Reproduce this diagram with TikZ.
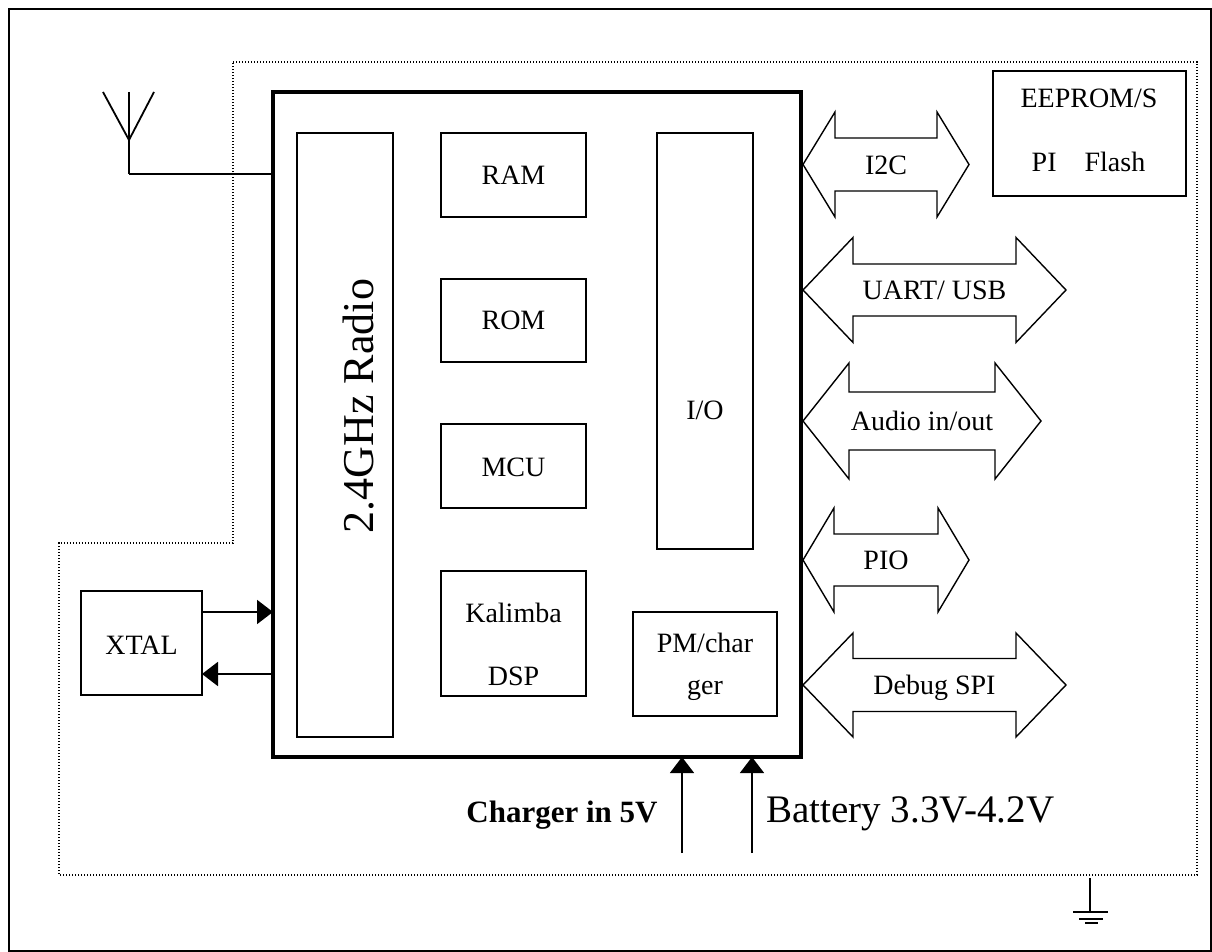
\documentclass[tikz,border=0pt]{standalone}
\usepackage{fontspec}
\setmainfont{Liberation Serif}
\usetikzlibrary{arrows.meta,fit}
\begin{document}
\begin{tikzpicture}[x=0.5pt, y=-0.5pt, >={Triangle[length=8pt, width=12pt]},
  box/.style={draw, line width=0.7pt, inner sep=0pt, outer sep=0pt},
  txt/.style={font=\fontsize{14}{17}\selectfont, inner sep=0pt, anchor=base},
  zone/.style={line width=0.7pt, dash pattern=on 0.6pt off 0.9pt}]
\useasboundingbox (0,0) rectangle (1212,952);
\draw[line width=1pt] (9,9) rectangle (1211,951);
% module outline
\draw[zone] (233,62) -- (1197,62) -- (1197,875) -- (59,875) -- (59,543) -- (233,543) -- cycle;
% chip and blocks
\node[box, line width=2pt, fit={(273,92) (801,757)}] (chip) {};
\node[box, fit={(297,133) (393,737)}] (radio) {};
\node[txt, font=\fontsize{22}{26}\selectfont, rotate=90] (radiolbl) at (373,406) {2.4GHz Radio};
\node[box, fit={(441,133) (586,217)}] (ram) {};
\node[txt] (ramlbl) at (513.5,185) {RAM};
\node[box, fit={(441,279) (586,362)}] (rom) {};
\node[txt] (romlbl) at (513.5,330) {ROM};
\node[box, fit={(441,424) (586,508)}] (mcu) {};
\node[txt] (mculbl) at (513.5,477) {MCU};
\node[box, fit={(441,571) (586,696)}] (dsp) {};
\node[txt] (dsplbla) at (513.5,623) {Kalimba};
\node[txt] (dsplblb) at (513.5,685) {DSP};
\node[box, fit={(657,133) (753,549)}] (io) {};
\node[txt] (iolbl) at (705,420) {I/O};
\node[box, fit={(633,612) (777,716)}] (pm) {};
\node[txt] (pmlbla) at (705,653) {PM/char};
\node[txt] (pmlblb) at (705,695) {ger};
\node[box, fit={(81,591) (202,695)}] (xtal) {};
\node[txt] (xtallbl) at (141.5,654) {XTAL};
\node[box, fit={(993,71) (1186,196)}] (flash) {};
\node[txt] (flashlbla) at (1089,108) {EEPROM/S};
\node[txt] (flashlblb) at (1088.5,172) {PI\quad Flash};
% antenna
\coordinate (ant) at (129,174);
\draw[line width=0.9pt] (103,92) -- (129,140) -- (154,92);
\draw[line width=0.9pt] (129,92) -- (ant);
\draw[line width=0.7pt] (ant) -- (ant -| chip.west);
% crystal
\coordinate (xa) at (202,612);
\coordinate (xb) at (202,674);
\draw[->, line width=1pt] (xa) -- (xa -| chip.west);
\draw[->, line width=1pt] (xb -| chip.west) -- (xb);
% interfaces
\foreach \c/\r/\h/\s/\w/\t [count=\i] in {164.5/969/32/26.5/52.5/I2C, 290/1066/50/26/52.5/{UART/ USB},
    421/1041/46/29/58/{Audio in/out}, 560/969/31/26/52/PIO, 685/1066/50/26.5/52/Debug SPI}{
  \draw[line width=0.7pt] (803,\c) -- ({803+\h},{\c-\w}) -- ({803+\h},{\c-\s}) -- ({\r-\h},{\c-\s})
    -- ({\r-\h},{\c-\w}) -- (\r,\c) -- ({\r-\h},{\c+\w}) -- ({\r-\h},{\c+\s}) -- ({803+\h},{\c+\s})
    -- ({803+\h},{\c+\w}) -- cycle;
  \node[txt] (bus\i) at ({(803+\r)/2},{\c+10}) {\t};
}
% power
\coordinate (chg) at (682,853);
\coordinate (bat) at (752,853);
\draw[->, line width=0.7pt] (chg) -- (chg |- chip.south);
\draw[->, line width=0.7pt] (bat) -- (bat |- chip.south);
\node[txt, font=\bfseries\fontsize{15.5}{18}\selectfont, anchor=base east] (chglbl) at (658,822) {Charger in 5V};
\node[txt, font=\fontsize{19.5}{23}\selectfont, anchor=base west] (batlbl) at (766,822) {Battery 3.3V-4.2V};
% ground
\coordinate (gnd) at (1090,878);
\draw[line width=0.8pt] (gnd) -- ++(0,34);
\draw[line width=0.8pt] (1073,912) -- (1108,912);
\draw[line width=0.8pt] (1079,919) -- (1103,919);
\draw[line width=0.8pt] (1085,923) -- (1098,923);
\end{tikzpicture}
\end{document}
